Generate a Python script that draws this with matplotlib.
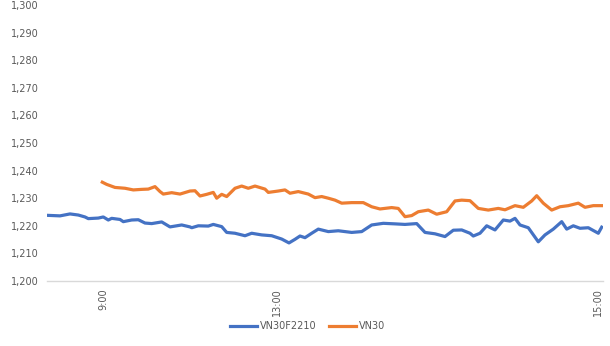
import matplotlib
matplotlib.use("Agg")
import matplotlib.pyplot as plt

# x positions: percent of the plotted session (0 = left edge, 100 = right edge)
fut_px = [46.7, 60, 70, 78.3, 85, 88.3, 98.3, 103.3, 108.3, 111.7, 120, 123.3, 131.7, 138.3, 145, 151.7,
          161.7, 170, 181.7, 190, 191.7, 198.3, 208.3, 213.3, 221.7, 226.7, 235, 245, 251.7, 261.7,
          271.7, 281.7, 289, 295, 300, 305, 311.7, 318.3, 328.3, 338.3, 351.7, 361.7, 371.7, 383.3,
          395, 405, 416.7, 425, 435, 445, 453.3, 461.7, 470, 473.3, 480, 486.7, 495, 503.3, 510, 515,
          520, 528.3, 538.3, 545, 553.3, 561.7, 566.7, 573.3, 580, 588.3, 598.3, 601.7]
fut_val = [1223.8, 1223.6, 1224.3, 1223.9, 1223.2, 1222.6, 1222.8, 1223.2, 1222.1, 1222.7, 1222.3, 1221.5,
           1222.1, 1222.2, 1221.0, 1220.8, 1221.4, 1219.6, 1220.3, 1219.6, 1219.3, 1220.0, 1219.9, 1220.5,
           1219.7, 1217.6, 1217.3, 1216.4, 1217.3, 1216.7, 1216.4, 1215.2, 1213.8, 1215.1, 1216.3, 1215.7,
           1217.3, 1218.8, 1217.9, 1218.2, 1217.6, 1217.9, 1220.3, 1220.9, 1220.7, 1220.5, 1220.8, 1217.6,
           1217.1, 1216.1, 1218.4, 1218.5, 1217.3, 1216.3, 1217.3, 1220.0, 1218.5, 1222.1, 1221.7, 1222.7,
           1220.3, 1219.3, 1214.2, 1216.7, 1218.8, 1221.5, 1218.8, 1220.0, 1219.1, 1219.3, 1217.3, 1219.5]

idx_px = [102.3, 106.7, 115, 125, 133.3, 141.7, 148.3, 155, 160, 163.3, 171.7, 180, 190, 195, 200, 206.7,
          213.3, 216.7, 221.7, 226.7, 235, 241.7, 248.3, 255, 265, 268.3, 278.3, 285, 290, 298.3, 308.3,
          315, 321.7, 328.3, 335, 341.7, 351.7, 363.3, 371.7, 380, 391.7, 398.3, 405, 411.7, 418.3, 428.3,
          436.7, 446.7, 455, 461.7, 470, 478.3, 488.3, 498.3, 505, 515, 523.3, 531.7, 536.7, 543.3, 551.7,
          560, 568.3, 578.3, 585, 593.3, 601.7]
idx_val = [1235.8, 1235.0, 1233.9, 1233.6, 1233.0, 1233.2, 1233.3, 1234.2, 1232.4, 1231.5, 1232.0, 1231.5,
           1232.6, 1232.7, 1230.8, 1231.4, 1232.1, 1230.0, 1231.4, 1230.6, 1233.6, 1234.4, 1233.6, 1234.4,
           1233.3, 1232.1, 1232.6, 1233.0, 1231.8, 1232.4, 1231.5, 1230.2, 1230.6, 1230.0, 1229.3, 1228.2,
           1228.4, 1228.4, 1226.9, 1226.1, 1226.6, 1226.3, 1223.3, 1223.7, 1225.1, 1225.7, 1224.2, 1225.1,
           1229.0, 1229.3, 1229.1, 1226.3, 1225.7, 1226.3, 1225.8, 1227.3, 1226.7, 1229.0, 1230.9, 1228.2,
           1225.7, 1226.9, 1227.3, 1228.2, 1226.7, 1227.3, 1227.3]

tick_px = [103, 277, 598]
tick_labels = ["9:00", "13:00", "15:00"]
series_names = ["VN30F2210", "VN30"]
y_ticks = list(range(1200, 1301, 10))

X0, X1 = 47, 603
def to_t(p):
    return [(v - X0) / (X1 - X0) * 100 for v in p]

fig = plt.figure(figsize=(6.1, 3.46), dpi=100)
ax = fig.add_axes([47/610, 1 - 281/346, (603-47)/610, (281-5)/346])

ax.plot(to_t(fut_px), fut_val, color="#4472C4", lw=2.3, label=series_names[0])
ax.plot(to_t(idx_px), idx_val, color="#ED7D31", lw=2.3, label=series_names[1])

ax.set_xlim(0, 100)
ax.set_ylim(1200, 1300)
ax.set_yticks(y_ticks)
ax.set_yticklabels([f"{v:,}" for v in y_ticks])
ax.set_xticks(to_t(tick_px))
ax.set_xticklabels(tick_labels, rotation=90)

for s in ["top", "right", "left"]:
    ax.spines[s].set_visible(False)
ax.spines["bottom"].set_color("#D9D9D9")
ax.spines["bottom"].set_linewidth(1)
ax.tick_params(axis="both", length=0, colors="#595959", labelsize=7)
ax.tick_params(axis="y", pad=6)
ax.tick_params(axis="x", pad=5)

leg = ax.legend(loc="center", bbox_to_anchor=(0.4685, -0.163), ncol=2, frameon=False,
                fontsize=7, handlelength=2.8, columnspacing=1.2, handletextpad=0.3,
                borderaxespad=0, borderpad=0)
for t in leg.get_texts():
    t.set_color("#595959")

fig.savefig("out.png", dpi=100)
